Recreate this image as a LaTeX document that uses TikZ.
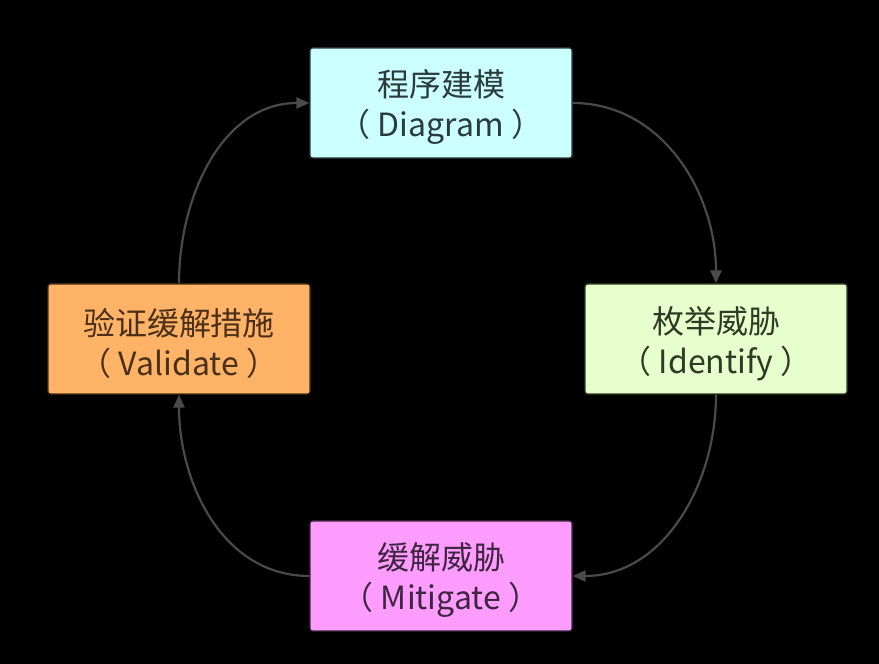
\documentclass[tikz,border=0pt]{standalone}
\usepackage{fontspec}
\setmainfont{Noto Sans CJK SC}
\usetikzlibrary{arrows.meta}
\definecolor{cA}{HTML}{CCFFFF}
\definecolor{tA}{HTML}{2B3B3B}
\definecolor{cB}{HTML}{E6FFCC}
\definecolor{tB}{HTML}{2E3A26}
\definecolor{cC}{HTML}{FF9CFF}
\definecolor{tC}{HTML}{3E2540}
\definecolor{cD}{HTML}{FFB366}
\definecolor{tD}{HTML}{4A3018}
\definecolor{arr}{HTML}{4A4A4A}
\newcommand\mytstrut{\rule{0pt}{36pt}}
\tikzset{
  box/.style={draw, line width=1.2pt, rounded corners=2.5pt, minimum width=262pt, minimum height=110pt,
    align=center, inner sep=0pt, font=\fontsize{32}{40}\selectfont},
  flow/.style={draw=arr, line width=2.2pt, -{Triangle[length=13pt,width=11pt]}}
}
\begin{document}
\begin{tikzpicture}[x=1pt,y=1pt]
\fill[black] (0,0) rectangle (879,664);
\useasboundingbox (0,0) rectangle (879,664);
\node[box, fill=cA, draw=tA, text=tA] (diag) at (441,561) {\mytstrut 程序建模\\（ Diagram ）};
\node[box, fill=cB, draw=tB, text=tB] (iden) at (716,325) {\mytstrut 枚举威胁\\（ Identify ）};
\node[box, fill=cC, draw=tC, text=tC] (miti) at (441,88) {\mytstrut 缓解威胁\\（ Mitigate ）};
\node[box, fill=cD, draw=tD, text=tD] (vali) at (179,325) {\mytstrut 验证缓解措施\\（ Validate ）};
\draw[flow] (diag.east) to[out=0,in=90] (iden.north);
\draw[flow] (iden.south) to[out=-90,in=0] (miti.east);
\draw[flow] (miti.west) to[out=180,in=-90] (vali.south);
\draw[flow] (vali.north) to[out=90,in=180] (diag.west);
\end{tikzpicture}
\end{document}
